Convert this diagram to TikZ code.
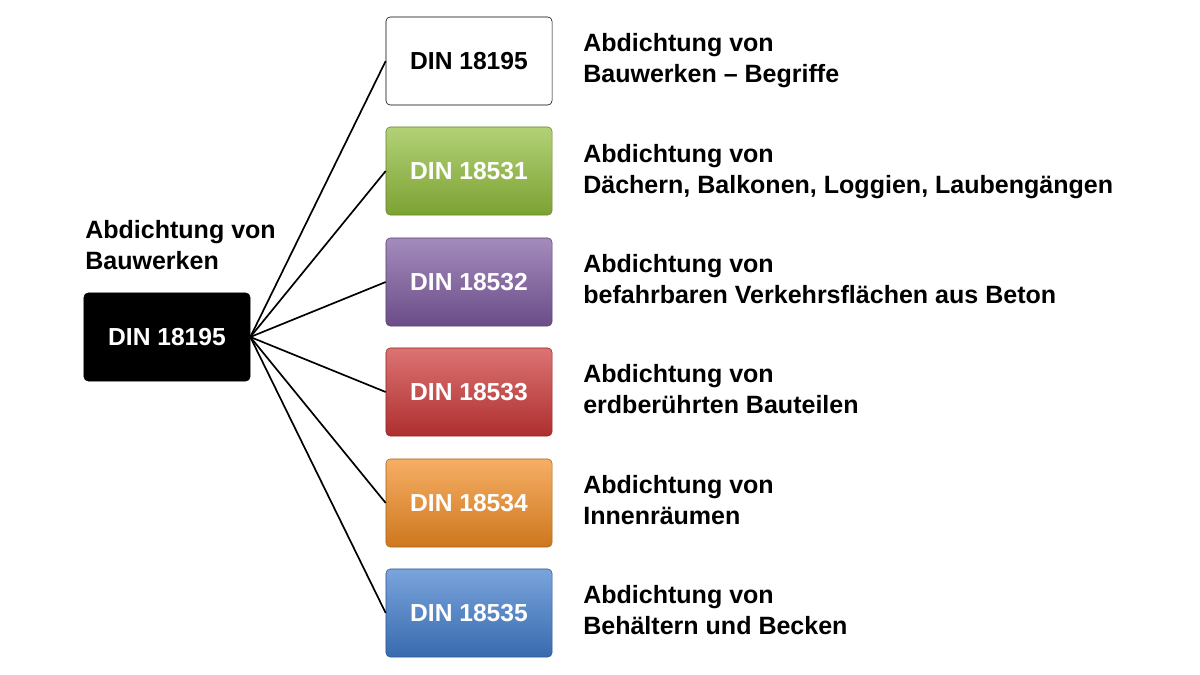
\documentclass[tikz,border=0pt]{standalone}
\usepackage{fontspec}
\setmainfont{Liberation Sans}
\begin{document}
\begin{tikzpicture}[x=0.025cm, y=-0.025cm,
	dinbox/.style={draw=#1!70!black, rounded corners=3pt, minimum width=4.15cm, minimum height=2.2cm, text=white, font=\fontsize{17.5}{20}\selectfont\bfseries},
	desc/.style={anchor=north west, align=left, inner sep=0pt, font=\fontsize{17.8}{22}\selectfont\bfseries}]
	
	\useasboundingbox (0,0) rectangle (1200,675);
	
	% Farben
	\definecolor{cgreen}{RGB}{146,190,60}
	\definecolor{cpurple}{RGB}{125,90,160}
	\definecolor{cred}{RGB}{205,55,55}
	\definecolor{corange}{RGB}{242,140,35}
	\definecolor{cblue}{RGB}{65,125,205}
	
	% Hauptnorm
	\node[dinbox=black, fill=black] (main) at (167,337) {DIN 18195};
	\node[desc] (maintxt) at (85,220) {Abdichtung von\\Bauwerken};
	
	% Teilnormen
	\node[dinbox=black, fill=white, text=black, draw=black] (n0) at (469,61) {DIN 18195};
	\node[dinbox=cgreen, top color=cgreen!70!white, bottom color=cgreen!85!black] (n1) at (469,171) {DIN 18531};
	\node[dinbox=cpurple, top color=cpurple!70!white, bottom color=cpurple!85!black] (n2) at (469,282) {DIN 18532};
	\node[dinbox=cred, top color=cred!70!white, bottom color=cred!85!black] (n3) at (469,392) {DIN 18533};
	\node[dinbox=corange, top color=corange!70!white, bottom color=corange!85!black] (n4) at (469,503) {DIN 18534};
	\node[dinbox=cblue, top color=cblue!70!white, bottom color=cblue!85!black] (n5) at (469,613) {DIN 18535};
	
	% Verbindungen
	\foreach \n in {n0,n1,n2,n3,n4,n5}
		\draw[line width=1.2pt] (main.east) -- (\n.west);
	
	% Beschreibungen
	\node[desc] (t0) at (583,33) {Abdichtung von\\Bauwerken -- Begriffe};
	\node[desc] (t1) at (583,144) {Abdichtung von\\Dächern, Balkonen, Loggien, Laubengängen};
	\node[desc] (t2) at (583,254) {Abdichtung von\\befahrbaren Verkehrsflächen aus Beton};
	\node[desc] (t3) at (583,364) {Abdichtung von\\erdberührten Bauteilen};
	\node[desc] (t4) at (583,475) {Abdichtung von\\Innenräumen};
	\node[desc] (t5) at (583,585) {Abdichtung von\\Behältern und Becken};
	
\end{tikzpicture}
\end{document}
